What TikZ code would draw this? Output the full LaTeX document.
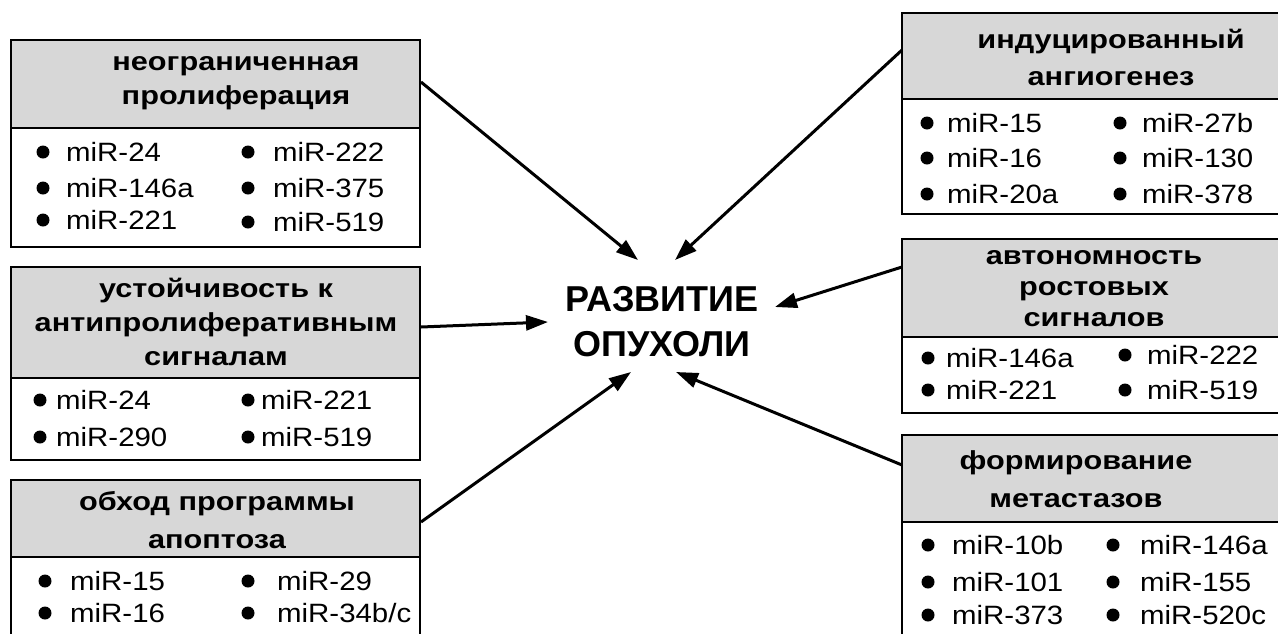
\documentclass[tikz,border=0pt]{standalone}
\usepackage{fontspec}
\setmainfont{Liberation Sans}
\newfontfamily\bxfont[FakeStretch=1.11]{Liberation Sans}
\newfontfamily\hdfont[FakeStretch=1.18]{Liberation Sans}
\usetikzlibrary{arrows.meta}
\definecolor{hdr}{RGB}{215,215,215}
\tikzset{
 boxline/.style={draw=black, line width=2.2pt},
 htext/.style={font=\hdfont\bfseries\fontsize{26}{34}\selectfont, align=center, inner sep=0pt},
 itext/.style={font=\bxfont\fontsize{26.5}{30}\selectfont, anchor=base west, inner sep=0pt},
 ctext/.style={font=\bfseries\fontsize{36}{45}\selectfont, align=center, inner sep=0pt},
 arr/.style={line width=3pt, -{Triangle[length=22pt,width=15pt]}},
}
\newcommand\mibox[5]{%
 \fill[hdr] (#1,#2) rectangle (#4,#3);
 \draw[boxline] (#1,#2) rectangle (#4,#5);
 \draw[boxline] (#1,#3) -- (#4,#3);}
\newcommand\miitem[4]{% bullet x, text x, row y, text
 \fill (#1,#3) circle [radius=6.5pt];
 \node[itext] at (#2,#3+9.5) {#4};}
\begin{document}
\begin{tikzpicture}[x=1pt,y=-1pt]
\useasboundingbox (0,0) rectangle (1278,633);
\clip (0,0) rectangle (1278,633);
\fill[white] (0,0) rectangle (1278,633);

% boxes
\mibox{11}{40}{128}{420}{247}
\mibox{11}{267}{378}{420}{460}
\mibox{11}{480}{557}{420}{660}
\mibox{902}{13}{99}{1300}{214}
\mibox{902}{239}{337}{1300}{413}
\mibox{902}{435}{522}{1300}{660}

% headers
\node[htext] (h1) at (236,83) {неограниченная\\пролиферация};
\node[htext] (h2) at (216,322) {устойчивость к\\антипролиферативным\\сигналам};
\node[htext, font=\hdfont\bfseries\fontsize{26}{38}\selectfont] (h3) at (217,520) {обход программы\\апоптоза};
\node[htext, font=\hdfont\bfseries\fontsize{26}{37}\selectfont] (h4) at (1111,57) {индуцированный\\ангиогенез};
\node[htext, font=\hdfont\bfseries\fontsize{26}{31}\selectfont] (h5) at (1094,289) {автономность\\ростовых\\сигналов};
\node[htext, font=\hdfont\bfseries\fontsize{26}{38}\selectfont] (h6) at (1076,479) {формирование\\метастазов};

% items L1
\miitem{43}{66}{152}{miR-24}
\miitem{43}{66}{188}{miR-146a}
\miitem{43}{66}{220}{miR-221}
\miitem{248}{273}{152}{miR-222}
\miitem{248}{273}{188}{miR-375}
\miitem{248}{273}{222}{miR-519}
% items L2
\miitem{40}{56}{400}{miR-24}
\miitem{40}{56}{437}{miR-290}
\miitem{248}{261}{400}{miR-221}
\miitem{248}{261}{437}{miR-519}
% items L3
\miitem{45}{70}{581}{miR-15}
\miitem{45}{70}{613}{miR-16}
\miitem{248}{277}{581}{miR-29}
\miitem{248}{277}{613}{miR-34b/c}
% items R1
\miitem{927}{947}{123}{miR-15}
\miitem{927}{947}{158}{miR-16}
\miitem{927}{947}{194}{miR-20a}
\miitem{1120}{1142}{123}{miR-27b}
\miitem{1120}{1142}{158}{miR-130}
\miitem{1120}{1142}{194}{miR-378}
% items R2
\miitem{928}{946}{358}{miR-146a}
\miitem{928}{946}{390}{miR-221}
\miitem{1125}{1147}{355}{miR-222}
\miitem{1125}{1147}{390}{miR-519}
% items R3
\miitem{928}{952}{545}{miR-10b}
\miitem{928}{952}{582}{miR-101}
\miitem{928}{952}{615}{miR-373}
\miitem{1113}{1140}{545}{miR-146a}
\miitem{1113}{1140}{582}{miR-155}
\miitem{1113}{1140}{615}{miR-520c}

% centre
\node[ctext] (c) at (662,322) {РАЗВИТИЕ\\ОПУХОЛИ};

% connector ends
\coordinate (s1) at (421,82);   \coordinate (t1) at (638,260);
\coordinate (s2) at (902,50);   \coordinate (t2) at (675,260);
\coordinate (s3) at (421,327);  \coordinate (t3) at (548,322);
\coordinate (s4) at (902,267);  \coordinate (t4) at (775,307);
\coordinate (s5) at (421,522);  \coordinate (t5) at (631,372);
\coordinate (s6) at (902,465);  \coordinate (t6) at (676,372);
\foreach \i in {1,...,6} \draw[arr] (s\i) -- (t\i);
\end{tikzpicture}
\end{document}
